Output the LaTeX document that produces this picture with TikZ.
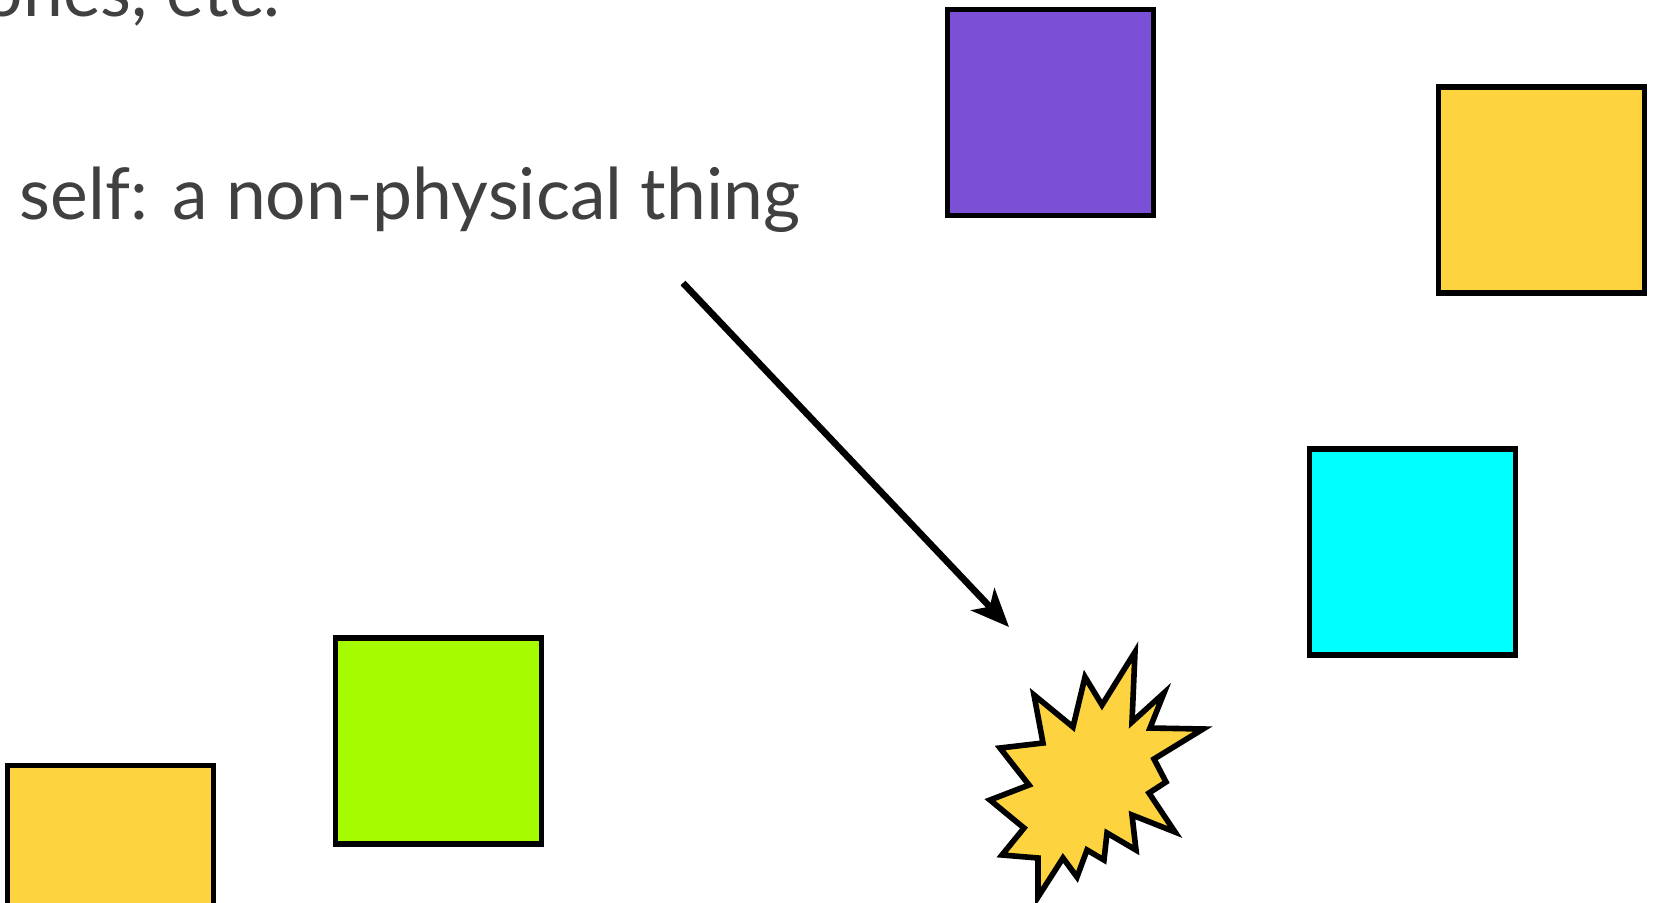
\documentclass[tikz,border=0pt]{standalone}
\usepackage{fontspec}
\setmainfont{Lato}
\usepackage{xcolor}
\usetikzlibrary{positioning, arrows.meta}

\definecolor{txtgrey}{HTML}{404040}
\definecolor{sqpurple}{HTML}{7B50D6}
\definecolor{sqyellow}{HTML}{FDD43F}
\definecolor{sqcyan}{HTML}{00FFFF}
\definecolor{sqgreen}{HTML}{A5FC00}

\begin{document}
\begin{tikzpicture}[x=0.01cm, y=-0.01cm,
  box/.style={draw, rectangle, line width=1.6pt, minimum size=2.06cm, inner sep=0pt},
  caption/.style={text=txtgrey, font=\fontsize{20.3}{24}\selectfont, inner sep=0pt}]
  \useasboundingbox (0,0) rectangle (1654,903);

  \node (etc) [caption, anchor=base west] at (-18,16) {ones, etc.};
  \node (self) [caption, anchor=base west] at (19,219) {self: a non-physical thing};

  \node (purple) [box, fill=sqpurple] at (1050.5,112.5) {};
  \node (yellowtr) [box, fill=sqyellow] at (1541.5,190) {};
  \node (cyan) [box, fill=sqcyan] at (1412.5,552) {};
  \node (green) [box, fill=sqgreen] at (438.5,741) {};
  \node (yellowbl) [box, fill=sqyellow] at (110.5,868.5) {};

  % the self
  \draw[line width=1.6pt, fill=sqyellow, line join=miter]
    (1135,652) -- (1132,722) -- (1164,693) -- (1150,728) -- (1203,729)
    -- (1154,759) -- (1166,782) -- (1149,793) -- (1175,832) -- (1132,815)
    -- (1136,850) -- (1107,833) -- (1104,860) -- (1087,850) -- (1077,877)
    -- (1063,858) -- (1038,897) -- (1038,858) -- (1002,855) -- (1024,828)
    -- (990,800) -- (1029,785) -- (1000,748) -- (1043,743) -- (1034,695)
    -- (1073,727) -- (1085,677) -- (1102,705) -- cycle;

  \coordinate (from) at (683,283);
  \coordinate (to) at (1009,627);
  \draw[line width=1.9pt, -{Stealth[length=0.38cm, width=0.32cm, inset=0.1cm]}] (from) -- (to);
\end{tikzpicture}
\end{document}
